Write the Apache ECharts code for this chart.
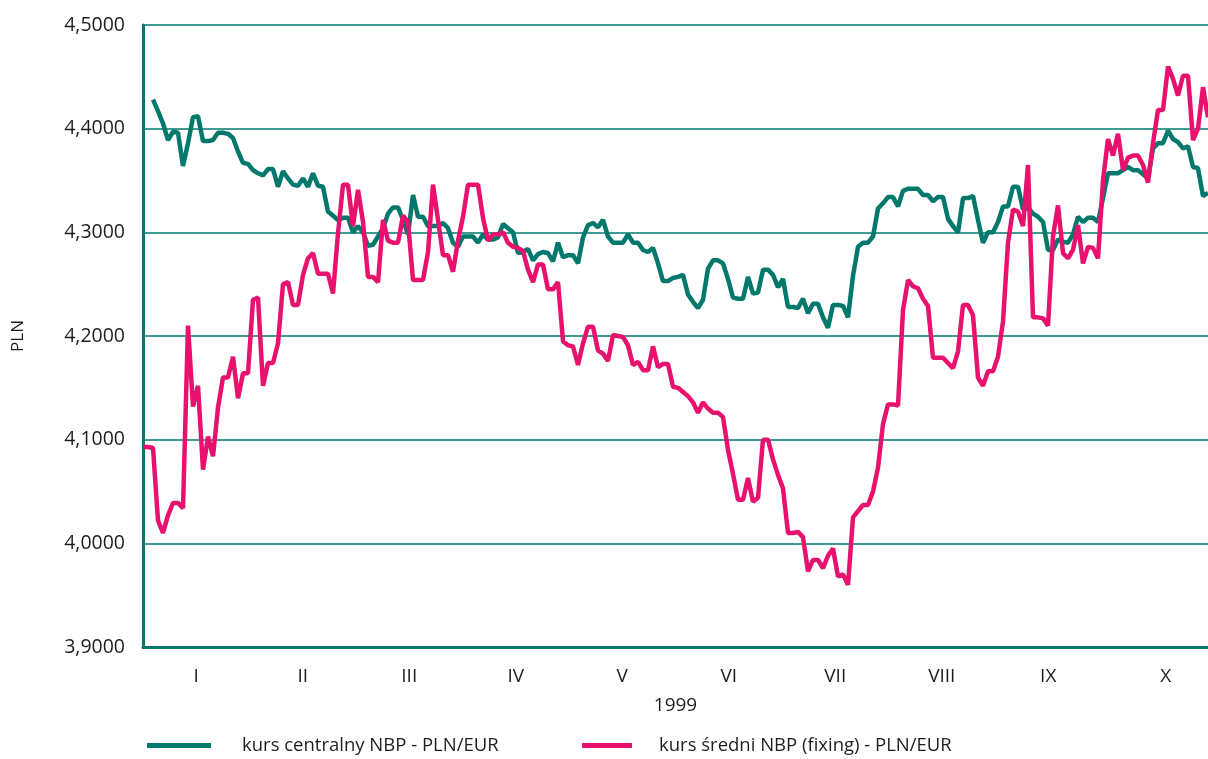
<!DOCTYPE html>
<html>
<head>
<meta charset="utf-8">
<script src="https://cdn.jsdelivr.net/npm/echarts@6/dist/echarts.min.js"></script>
<style>
  html, body { margin: 0; padding: 0; background: #fff; }
  #chart { width: 1208px; height: 759px; }
</style>
</head>
<body>
<div id="chart"></div>
<script>
// miesiace 1999 (etykiety osi X)
const months = ["I", "II", "III", "IV", "V", "VI", "VII", "VIII", "IX", "X"];

// kurs centralny NBP - PLN/EUR, notowania dzienne
const centralny = [
  null, null, 4.428, 4.417, 4.405, 4.389, 4.397, 4.396, 4.364, 4.386,
  4.411, 4.412, 4.388, 4.388, 4.389, 4.396, 4.396, 4.395, 4.391, 4.378,
  4.367, 4.366, 4.360, 4.357, 4.355, 4.361, 4.361, 4.344, 4.359, 4.352,
  4.346, 4.345, 4.352, 4.344, 4.357, 4.345, 4.344, 4.320, 4.316, 4.312,
  4.314, 4.314, 4.300, 4.306, 4.300, 4.287, 4.288, 4.296, 4.304, 4.318,
  4.324, 4.324, 4.312, 4.298, 4.336, 4.315, 4.315, 4.306, 4.306, 4.306,
  4.309, 4.304, 4.290, 4.286, 4.296, 4.296, 4.296, 4.290, 4.298, 4.293,
  4.293, 4.295, 4.308, 4.304, 4.300, 4.280, 4.281, 4.284, 4.273, 4.279,
  4.281, 4.280, 4.272, 4.290, 4.276, 4.278, 4.278, 4.270, 4.295, 4.307,
  4.309, 4.305, 4.312, 4.296, 4.290, 4.290, 4.290, 4.298, 4.290, 4.290,
  4.283, 4.281, 4.285, 4.270, 4.253, 4.253, 4.256, 4.257, 4.259, 4.240,
  4.233, 4.227, 4.235, 4.265, 4.273, 4.273, 4.270, 4.255, 4.237, 4.236,
  4.236, 4.257, 4.241, 4.242, 4.264, 4.264, 4.259, 4.247, 4.255, 4.228,
  4.228, 4.227, 4.236, 4.222, 4.231, 4.231, 4.218, 4.208, 4.230, 4.230,
  4.229, 4.218, 4.258, 4.286, 4.290, 4.290, 4.296, 4.323, 4.328, 4.334,
  4.334, 4.325, 4.340, 4.342, 4.342, 4.342, 4.336, 4.336, 4.330, 4.334,
  4.334, 4.313, 4.306, 4.300, 4.333, 4.333, 4.335, 4.312, 4.290, 4.300,
  4.300, 4.310, 4.325, 4.325, 4.344, 4.344, 4.322, 4.324, 4.318, 4.315,
  4.310, 4.283, 4.283, 4.293, 4.291, 4.290, 4.298, 4.315, 4.310, 4.314,
  4.314, 4.310, 4.333, 4.357, 4.357, 4.357, 4.360, 4.363, 4.360, 4.360,
  4.356, 4.352, 4.381, 4.386, 4.386, 4.398, 4.390, 4.387, 4.381, 4.383,
  4.363, 4.362, 4.335, 4.338
];

// kurs sredni NBP (fixing) - PLN/EUR, notowania dzienne
const fixing = [
  4.093, 4.093, 4.092, 4.022, 4.010, 4.027, 4.039, 4.039, 4.034, 4.210,
  4.132, 4.152, 4.071, 4.103, 4.084, 4.131, 4.160, 4.160, 4.180, 4.140,
  4.164, 4.164, 4.235, 4.237, 4.152, 4.174, 4.174, 4.193, 4.250, 4.252,
  4.230, 4.230, 4.259, 4.275, 4.280, 4.260, 4.260, 4.260, 4.241, 4.299,
  4.346, 4.346, 4.306, 4.341, 4.310, 4.257, 4.257, 4.252, 4.312, 4.292,
  4.290, 4.290, 4.316, 4.310, 4.254, 4.254, 4.254, 4.281, 4.346, 4.312,
  4.278, 4.278, 4.262, 4.292, 4.315, 4.346, 4.346, 4.346, 4.314, 4.292,
  4.298, 4.298, 4.300, 4.290, 4.286, 4.285, 4.282, 4.264, 4.252, 4.269,
  4.269, 4.245, 4.245, 4.252, 4.195, 4.191, 4.190, 4.172, 4.193, 4.209,
  4.209, 4.186, 4.183, 4.176, 4.201, 4.200, 4.199, 4.191, 4.172, 4.175,
  4.167, 4.167, 4.190, 4.170, 4.173, 4.173, 4.151, 4.150, 4.146, 4.142,
  4.136, 4.126, 4.136, 4.130, 4.126, 4.126, 4.122, 4.090, 4.067, 4.042,
  4.042, 4.063, 4.040, 4.044, 4.100, 4.100, 4.081, 4.066, 4.053, 4.010,
  4.010, 4.011, 4.006, 3.973, 3.984, 3.984, 3.976, 3.988, 3.995, 3.968,
  3.970, 3.960, 4.025, 4.031, 4.037, 4.037, 4.050, 4.073, 4.115, 4.134,
  4.134, 4.133, 4.225, 4.254, 4.248, 4.246, 4.236, 4.229, 4.179, 4.179,
  4.179, 4.174, 4.169, 4.185, 4.230, 4.230, 4.220, 4.160, 4.152, 4.166,
  4.166, 4.180, 4.214, 4.290, 4.322, 4.320, 4.306, 4.365, 4.218, 4.218,
  4.217, 4.210, 4.296, 4.326, 4.280, 4.275, 4.283, 4.307, 4.270, 4.286,
  4.285, 4.275, 4.350, 4.390, 4.374, 4.395, 4.360, 4.372, 4.374, 4.374,
  4.365, 4.348, 4.386, 4.418, 4.418, 4.460, 4.448, 4.432, 4.451, 4.451,
  4.389, 4.400, 4.440, 4.411
];

const names = ["kurs centralny NBP - PLN/EUR", "kurs średni NBP (fixing) - PLN/EUR"];
const TEAL = "#00786b";
const PINK = "#e8116e";
const INK = "#1e1e1e";
const FONT = "'Open Sans', 'Noto Sans', sans-serif";

const days = centralny.map((_, i) => i + 1);

const chart = echarts.init(document.getElementById("chart"));

chart.setOption({
  animation: false,
  backgroundColor: "#fff",
  textStyle: { fontFamily: FONT },
  grid: { left: 143, right: 0, top: 25, bottom: 112 },
  legend: [
    {
      data: [names[0]],
      left: 147,
      top: 736,
      padding: 0,
      itemWidth: 64,
      itemHeight: 5,
      icon: "rect",
      textStyle: { fontSize: 18.5, color: INK, fontFamily: FONT, padding: [0, 0, 0, 26] },
    },
    {
      data: [names[1]],
      left: 582,
      top: 736,
      padding: 0,
      itemWidth: 50,
      itemHeight: 5,
      icon: "rect",
      textStyle: { fontSize: 18.5, color: INK, fontFamily: FONT, padding: [0, 0, 0, 22] },
    },
  ],
  xAxis: [
    {
      type: "category",
      data: days,
      boundaryGap: false,
      show: false,
    },
    {
      type: "category",
      data: months,
      position: "bottom",
      boundaryGap: true,
      name: "1999",
      nameLocation: "middle",
      nameGap: 49,
      nameTextStyle: { fontSize: 19, color: INK, fontFamily: FONT },
      axisLine: { show: true, lineStyle: { color: TEAL, width: 3 } },
      axisTick: { show: false },
      axisLabel: {
        margin: 20,
        fontSize: 19,
        color: INK,
        fontFamily: FONT,
        formatter: (v) => (v === "X" ? "{x|X}" : v),
        rich: { x: { fontSize: 19, color: INK, fontFamily: FONT, padding: [0, 0, 0, 22] } },
      },
      splitLine: { show: false },
    },
  ],
  yAxis: {
    type: "value",
    min: 3.9,
    max: 4.5,
    interval: 0.1,
    name: "PLN",
    nameLocation: "middle",
    nameGap: 116,
    nameRotate: 90,
    nameTextStyle: { fontSize: 17, color: INK, fontFamily: FONT },
    axisLine: { show: true, lineStyle: { color: TEAL, width: 3 } },
    axisTick: { show: false },
    axisLabel: {
      margin: 18,
      fontSize: 19.5,
      color: INK,
      fontFamily: FONT,
      formatter: (v) => v.toFixed(4).replace(".", ","),
    },
    splitLine: { show: true, lineStyle: { color: TEAL, width: 1.5 } },
  },
  series: [
    {
      name: names[0],
      type: "line",
      xAxisIndex: 0,
      data: centralny,
      showSymbol: false,
      symbol: "none",
      lineStyle: { color: TEAL, width: 4.5 },
      itemStyle: { color: TEAL },
    },
    {
      name: names[1],
      type: "line",
      xAxisIndex: 0,
      data: fixing,
      showSymbol: false,
      symbol: "none",
      lineStyle: { color: PINK, width: 4.5 },
      itemStyle: { color: PINK },
    },
  ],
});

window.addEventListener("resize", () => chart.resize());
</script>
</body>
</html>
